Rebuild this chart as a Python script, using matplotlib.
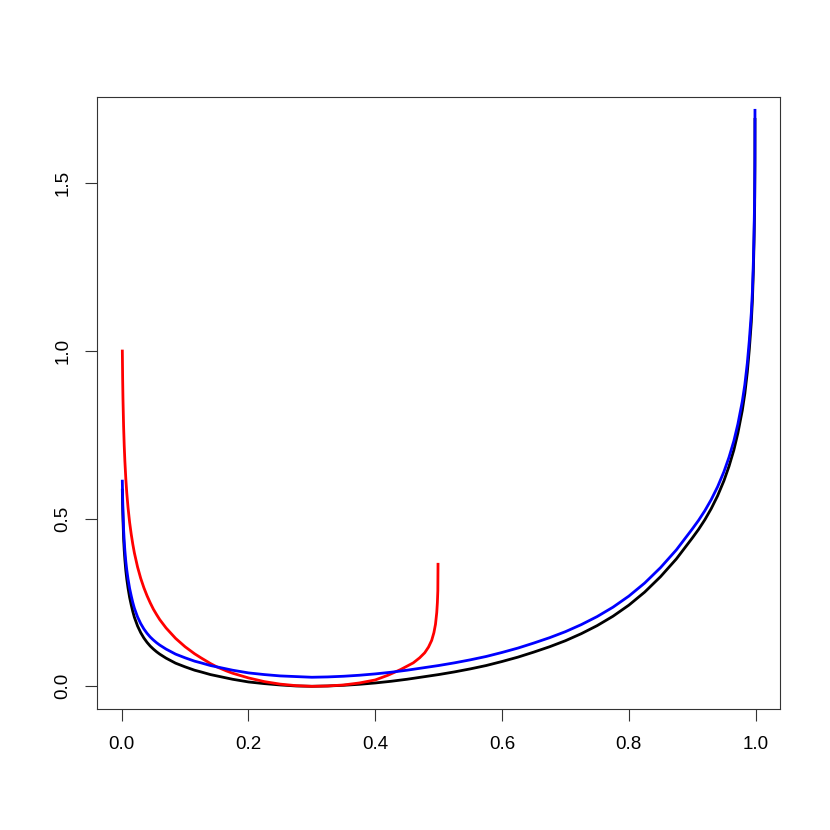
import matplotlib
matplotlib.use("Agg")
from matplotlib import pyplot as plt

# shared grid for the black and blue curves
p = [0.001, 0.0015, 0.002, 0.003, 0.004, 0.005, 0.0065, 0.008, 0.01, 0.0125,
     0.015, 0.0175, 0.02, 0.025, 0.03, 0.035, 0.04, 0.045, 0.05, 0.055,
     0.06, 0.07, 0.085, 0.1, 0.115, 0.125, 0.14, 0.15, 0.165, 0.175,
     0.2, 0.225, 0.25, 0.275, 0.3, 0.325, 0.35, 0.375, 0.4, 0.425,
     0.45, 0.475, 0.5, 0.525, 0.55, 0.575, 0.6, 0.625, 0.65, 0.675,
     0.7, 0.725, 0.75, 0.775, 0.8, 0.825, 0.85, 0.875, 0.9, 0.91,
     0.92, 0.93, 0.94, 0.95, 0.958, 0.9657, 0.972, 0.979, 0.983, 0.9869,
     0.99, 0.9932, 0.995, 0.9964, 0.9975, 0.9985, 0.9989, 0.999]

black = [0.585, 0.533, 0.498, 0.441, 0.405, 0.378, 0.345, 0.32, 0.293, 0.265,
         0.243, 0.223, 0.206, 0.18, 0.16, 0.144, 0.131, 0.12, 0.111, 0.103,
         0.096, 0.084, 0.069, 0.058, 0.048, 0.043, 0.035, 0.031, 0.025, 0.021,
         0.013, 0.008, 0.004, 0.001, 0.0, 0.001, 0.003, 0.006, 0.01, 0.015,
         0.021, 0.028, 0.035, 0.043, 0.052, 0.062, 0.074, 0.087, 0.102, 0.118,
         0.136, 0.157, 0.181, 0.209, 0.242, 0.281, 0.327, 0.38, 0.442, 0.468,
         0.497, 0.53, 0.568, 0.613, 0.656, 0.705, 0.755, 0.823, 0.873, 0.937,
         1.003, 1.086, 1.153, 1.236, 1.323, 1.434, 1.553, 1.691]

blue = [0.612, 0.56, 0.525, 0.468, 0.432, 0.405, 0.372, 0.347, 0.32, 0.292,
        0.27, 0.25, 0.233, 0.207, 0.187, 0.171, 0.158, 0.147, 0.138, 0.13,
        0.123, 0.111, 0.096, 0.085, 0.075, 0.07, 0.062, 0.058, 0.052, 0.048,
        0.04, 0.035, 0.031, 0.029, 0.027, 0.028, 0.03, 0.033, 0.037, 0.042,
        0.048, 0.055, 0.062, 0.07, 0.079, 0.089, 0.101, 0.114, 0.129, 0.145,
        0.163, 0.184, 0.208, 0.236, 0.269, 0.308, 0.354, 0.407, 0.469, 0.495,
        0.524, 0.557, 0.595, 0.64, 0.683, 0.732, 0.782, 0.85, 0.9, 0.964,
        1.03, 1.113, 1.18, 1.263, 1.35, 1.461, 1.58, 1.718]

# red curve only runs up to 0.5
red_p = [0.001, 0.0015, 0.002, 0.003, 0.004, 0.005, 0.0065, 0.008, 0.01, 0.0125,
         0.015, 0.0175, 0.02, 0.025, 0.03, 0.035, 0.04, 0.045, 0.05, 0.055,
         0.06, 0.07, 0.085, 0.1, 0.115, 0.125, 0.14, 0.15, 0.165, 0.175,
         0.2, 0.225, 0.25, 0.275, 0.3, 0.325, 0.35, 0.375, 0.4, 0.42,
         0.44, 0.45, 0.46, 0.47, 0.478, 0.484, 0.489, 0.4925, 0.495, 0.497,
         0.498, 0.4987, 0.499]
red = [1.0, 0.917, 0.858, 0.775, 0.717, 0.672, 0.619, 0.577, 0.533, 0.489,
       0.454, 0.424, 0.398, 0.356, 0.322, 0.294, 0.27, 0.249, 0.23, 0.214,
       0.199, 0.174, 0.143, 0.118, 0.097, 0.085, 0.068, 0.058, 0.046, 0.039,
       0.025, 0.014, 0.0065, 0.002, 0.0, 0.001, 0.004, 0.01, 0.019, 0.033,
       0.05, 0.06, 0.07, 0.085, 0.1, 0.117, 0.137, 0.16, 0.185, 0.22,
       0.25, 0.285, 0.364]

x_ticks = [0.0, 0.2, 0.4, 0.6, 0.8, 1.0]
y_ticks = [0.0, 0.5, 1.0, 1.5]

plt.rcParams["font.family"] = ["Liberation Sans", "DejaVu Sans"]

fig = plt.figure(figsize=(8.3, 8.3), dpi=100)
ax = fig.add_axes([0.1169, 0.1458, 0.8232, 0.7377])

ax.plot(p, black, color="black", lw=2.0)
ax.plot(red_p, red, color="red", lw=2.0)
ax.plot(p, blue, color="blue", lw=2.0)

# R style limits: 4% padding around the first curve's range
xr = p[-1] - p[0]
ax.set_xlim(p[0] - 0.04 * xr, p[-1] + 0.04 * xr)
yr = max(black) - min(black)
ax.set_ylim(min(black) - 0.04 * yr, max(black) + 0.04 * yr)

ax.set_xticks(x_ticks)
ax.set_xticklabels(["%.1f" % v for v in x_ticks])
ax.set_yticks(y_ticks)
ax.set_yticklabels(["%.1f" % v for v in y_ticks], rotation=90, va="center")

ax.tick_params(axis="both", length=8.6, width=0.8, labelsize=13.5, color="#333333")
ax.tick_params(axis="x", pad=11)
ax.tick_params(axis="y", pad=10)
for s in ax.spines.values():
    s.set_linewidth(0.8)
    s.set_color("#333333")

fig.savefig("out.png", dpi=100)
